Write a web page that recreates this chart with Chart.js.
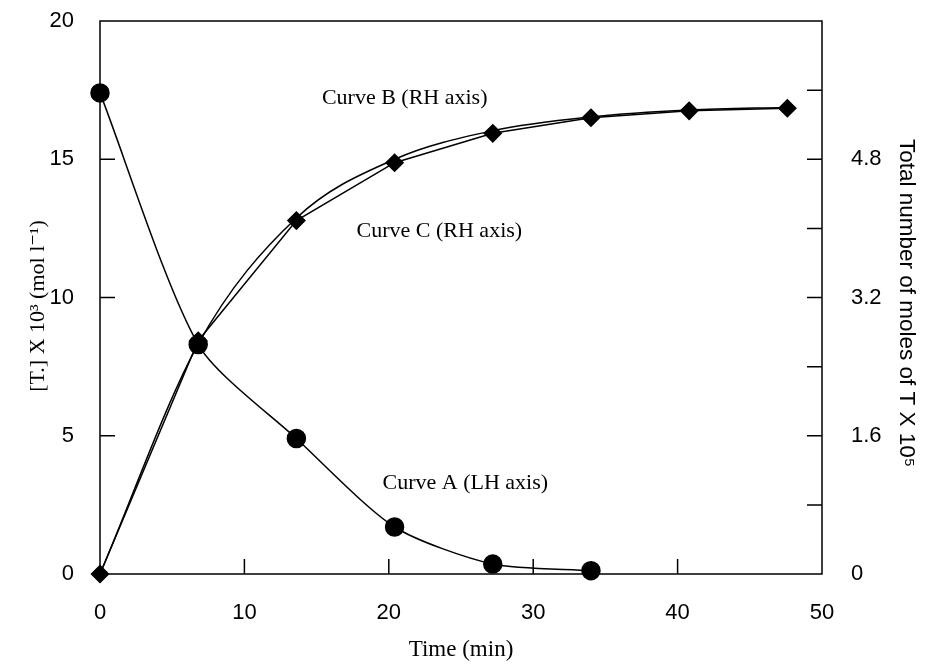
<!DOCTYPE html>
<html>
<head>
<meta charset="utf-8">
<script src="https://cdn.jsdelivr.net/npm/chart.js@4.4.1/dist/chart.umd.min.js"></script>
<style>
  html, body { margin: 0; padding: 0; background: #fff; }
  #wrap { width: 936px; height: 666px; }
</style>
</head>
<body>
<div id="wrap"><canvas id="myChart" width="936" height="666"></canvas></div>
<script>
// sampling times (min)
const timeA = [0, 6.8, 13.6, 20.4, 27.2, 34];
const timeB = [0, 6.8, 13.6, 20.4, 27.2, 34, 40.8, 47.6];

// Curve A: [T.] x 10^3 (mol l-1), left axis
const curveA = [17.4, 8.3, 4.9, 1.7, 0.36, 0.12];
// Curve B: total moles of T x 10^5, right axis (measured, diamonds)
const curveB = [0, 2.70, 4.09, 4.76, 5.10, 5.28, 5.36, 5.39];
// Curve C: total moles of T x 10^5, right axis (smooth line)
const curveC = [0, 2.66, 4.12, 4.80, 5.13, 5.29, 5.37, 5.40];

const xTicks = [0, 10, 20, 30, 40, 50];
const leftTicks = [0, 5, 10, 15, 20];
const rightLabels = [0, 1.6, 3.2, 4.8];

const serif = '"Liberation Serif", "DejaVu Serif", serif';
const sans = '"Liberation Sans", Arial, sans-serif';

function pts(xs, ys){
  return xs.map((x, i) => ({x: x, y: ys[i]}));
}

function noPad(s){
  s.paddingTop = 0; s.paddingBottom = 0; s.paddingLeft = 0; s.paddingRight = 0;
}

// box, inward ticks, axis titles and curve labels
const decor = {
  id: 'decor',
  afterDraw(chart){
    const ctx = chart.ctx;
    const a = chart.chartArea;
    const sx = chart.scales.x, sy = chart.scales.y, sy2 = chart.scales.y2;
    ctx.save();
    ctx.strokeStyle = '#000';
    ctx.lineWidth = 1.5;
    ctx.strokeRect(a.left, a.top, a.right - a.left, a.bottom - a.top);

    const len = 15;
    ctx.beginPath();
    xTicks.slice(1, -1).forEach(v => {
      const px = sx.getPixelForValue(v);
      ctx.moveTo(px, a.bottom); ctx.lineTo(px, a.bottom - len);
    });
    leftTicks.slice(1, -1).forEach(v => {
      const py = sy.getPixelForValue(v);
      ctx.moveTo(a.left, py); ctx.lineTo(a.left + len, py);
    });
    sy2.ticks.forEach(t => {
      if (t.value <= 0.01 || t.value >= 6.39) return;
      const py = sy2.getPixelForValue(t.value);
      ctx.moveTo(a.right, py); ctx.lineTo(a.right - len, py);
    });
    ctx.stroke();

    ctx.fillStyle = '#000';
    ctx.textAlign = 'center';
    ctx.textBaseline = 'middle';

    // curve labels
    ctx.font = '22px ' + serif;
    ctx.fillText('Curve B (RH axis)', sx.getPixelForValue(21.1), sy.getPixelForValue(17.2));
    ctx.fillText('Curve C (RH axis)', sx.getPixelForValue(23.5), sy.getPixelForValue(12.4));
    ctx.fillText('Curve A (LH axis)', sx.getPixelForValue(25.3), sy.getPixelForValue(3.3));

    // x title
    ctx.font = '23px ' + serif;
    ctx.fillText('Time (min)', (a.left + a.right) / 2, 650);

    // left title
    ctx.save();
    ctx.translate(38, 306);
    ctx.rotate(-Math.PI / 2);
    ctx.font = '22px ' + serif;
    ctx.fillText('[T.] X 10\u00B3 (mol l\u207B\u00B9)', 0, 0);
    ctx.restore();

    // right title
    ctx.save();
    ctx.translate(906, 303);
    ctx.rotate(Math.PI / 2);
    ctx.font = '22.5px ' + sans;
    ctx.fillText('Total number of moles of T X 10\u2075', 0, 0);
    ctx.restore();

    ctx.restore();
  }
};

const config = {
  type: 'line',
  data: {
    datasets: [
      {
        label: 'Curve A',
        data: pts(timeA, curveA),
        yAxisID: 'y',
        borderColor: '#000',
        backgroundColor: '#000',
        borderWidth: 1.5,
        pointStyle: 'circle',
        pointRadius: 9,
        pointHoverRadius: 9,
        tension: 0.25,
        clip: false
      },
      {
        label: 'Curve C',
        data: pts(timeB, curveC),
        yAxisID: 'y2',
        borderColor: '#000',
        borderWidth: 1.5,
        pointRadius: 0,
        cubicInterpolationMode: 'monotone',
        clip: false
      },
      {
        label: 'Curve B',
        data: pts(timeB, curveB),
        yAxisID: 'y2',
        borderColor: '#000',
        backgroundColor: '#000',
        borderWidth: 1.5,
        pointStyle: 'rectRot',
        pointRadius: 8.5,
        pointHoverRadius: 8.5,
        tension: 0,
        clip: false
      }
    ]
  },
  options: {
    responsive: false,
    animation: false,
    layout: { padding: { top: 21, left: 0, right: 0, bottom: 0 }, autoPadding: false },
    plugins: { legend: { display: false }, tooltip: { enabled: false } },
    scales: {
      x: {
        type: 'linear',
        min: 0, max: 50,
        afterBuildTicks: s => { s.ticks = xTicks.map(v => ({value: v})); },
        afterFit: s => { s.height = 92; noPad(s); },
        grid: { display: false },
        border: { display: false },
        ticks: { color: '#000', font: { family: sans, size: 22 }, padding: 18, maxRotation: 0 }
      },
      y: {
        position: 'left',
        min: 0, max: 20,
        afterBuildTicks: s => { s.ticks = leftTicks.map(v => ({value: v})); },
        afterFit: s => { s.width = 100; noPad(s); },
        grid: { display: false },
        border: { display: false },
        ticks: { color: '#000', font: { family: sans, size: 22 }, padding: 18 }
      },
      y2: {
        position: 'right',
        min: 0, max: 6.4,
        afterBuildTicks: s => {
          const t = [];
          for (let i = 0; i <= 8; i++) t.push({value: Math.round(i * 8) / 10});
          s.ticks = t;
        },
        afterFit: s => { s.width = 114; noPad(s); },
        grid: { display: false },
        border: { display: false },
        ticks: {
          color: '#000', font: { family: sans, size: 22 }, padding: 21,
          callback: v => {
            const r = rightLabels.find(l => Math.abs(l - v) < 0.01);
            return r === undefined ? '' : (r === 0 ? '0' : r.toFixed(1));
          }
        }
      }
    }
  },
  plugins: [decor]
};

var myChart = new Chart(document.getElementById('myChart'), config);
</script>
</body>
</html>
